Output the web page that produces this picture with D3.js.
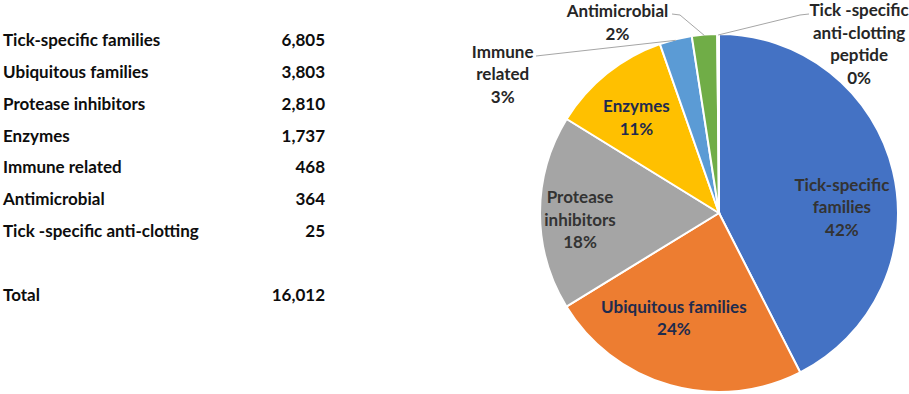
<!DOCTYPE html>
<html>
<head>
<meta charset="utf-8">
<script src="https://cdn.jsdelivr.net/npm/d3@7"></script>
<style>
  body { margin: 0; background: #fff; }
  text { font-family: Lato, "Open Sans", sans-serif; font-weight: bold; }
</style>
</head>
<body>
<script>
// table rows + pie slices
const categories = ["Tick-specific families", "Ubiquitous families", "Protease inhibitors",
  "Enzymes", "Immune related", "Antimicrobial", "Tick -specific anti-clotting"];
const counts = [6805, 3803, 2810, 1737, 468, 364, 25];
const totalLabel = "Total";
// how the pie labels are broken over lines
const pieLabels = [
  ["Tick-specific", "families"],
  ["Ubiquitous families"],
  ["Protease", "inhibitors"],
  ["Enzymes"],
  ["Immune", "related"],
  ["Antimicrobial"],
  ["Tick -specific", "anti-clotting", "peptide"]
];
const colors = ["#4472C4", "#ED7D31", "#A5A5A5", "#FFC000", "#5B9BD5", "#70AD47", "#264478"];

const w = 909, h = 394;
const svg = d3.select("body").append("svg").attr("width", w).attr("height", h);

const total = d3.sum(counts);
const fmt = d3.format(",");

// ---- table on the left
const rowY = d3.scalePoint().domain(d3.range(9)).range([40, 295]);
const rows = categories.map((c, i) => ({ name: c, value: counts[i], row: i }));
rows.push({ name: totalLabel, value: total, row: 8 });

const tbl = svg.append("g").attr("fill", "#0d0d0d").style("font-size", "17px");
tbl.selectAll("text.name").data(rows).enter().append("text")
  .attr("class", "name")
  .attr("x", 3).attr("y", d => rowY(d.row)).attr("dy", "0.35em")
  .text(d => d.name);
tbl.selectAll("text.val").data(rows).enter().append("text")
  .attr("class", "val")
  .attr("x", 325).attr("y", d => rowY(d.row)).attr("dy", "0.35em")
  .attr("text-anchor", "end")
  .text(d => fmt(d.value));

// ---- pie on the right
const cx = 719, cy = 213, R = 179;
const pie = d3.pie().sort(null).value(d => d);
const arcs = pie(counts);
const arc = d3.arc().innerRadius(0).outerRadius(R);
const labelArc = d3.arc().innerRadius(R * 0.62).outerRadius(R * 0.62);
const edgeArc = d3.arc().innerRadius(R).outerRadius(R);

const g = svg.append("g").attr("transform", `translate(${cx},${cy})`);
g.selectAll("path").data(arcs).enter().append("path")
  .attr("d", arc)
  .attr("fill", (d, i) => colors[i])
  .attr("stroke", "#fff").attr("stroke-width", 2);

// label nudges (inside labels from centroid, outside from the rim)
const nudge = [[15, 20], [-15, -2], [-28, 7], [-13, -9], [-173, 35], [-87, -12], [141, 10]];
const outside = [false, false, false, false, true, true, true];
const labelColors = ["#333", "#1f2b4d", "#333", "#1f2b4d", "#262626", "#262626", "#262626"];
const lineH = 22.5;

arcs.forEach((a, i) => {
  const base = outside[i] ? edgeArc.centroid(a) : labelArc.centroid(a);
  const lx = base[0] + nudge[i][0], ly = base[1] + nudge[i][1];
  const lines = pieLabels[i].concat([Math.round(a.value / total * 100) + "%"]);
  const t = g.append("text")
    .attr("text-anchor", "middle")
    .attr("fill", labelColors[i])
    .style("font-size", "17px");
  lines.forEach((s, k) => {
    t.append("tspan")
      .attr("x", lx)
      .attr("y", ly + (k - (lines.length - 1) / 2) * lineH)
      .attr("dy", "0.35em")
      .text(s);
  });
});

// leader lines for the small slices
const leaders = [
  { i: 4, pts: [[-183, -157]] },
  { i: 5, pts: [[-47, -199], [-39, -198]] },
  { i: 6, pts: [[90, -199], [81, -198]] }
];
leaders.forEach(l => {
  const e = edgeArc.centroid(arcs[l.i]);
  const pts = l.pts.concat([[e[0], e[1] + 1]]);
  g.append("path")
    .attr("d", d3.line()(pts))
    .attr("fill", "none")
    .attr("stroke", "#a6a6a6")
    .attr("stroke-width", 1);
});
</script>
</body>
</html>
